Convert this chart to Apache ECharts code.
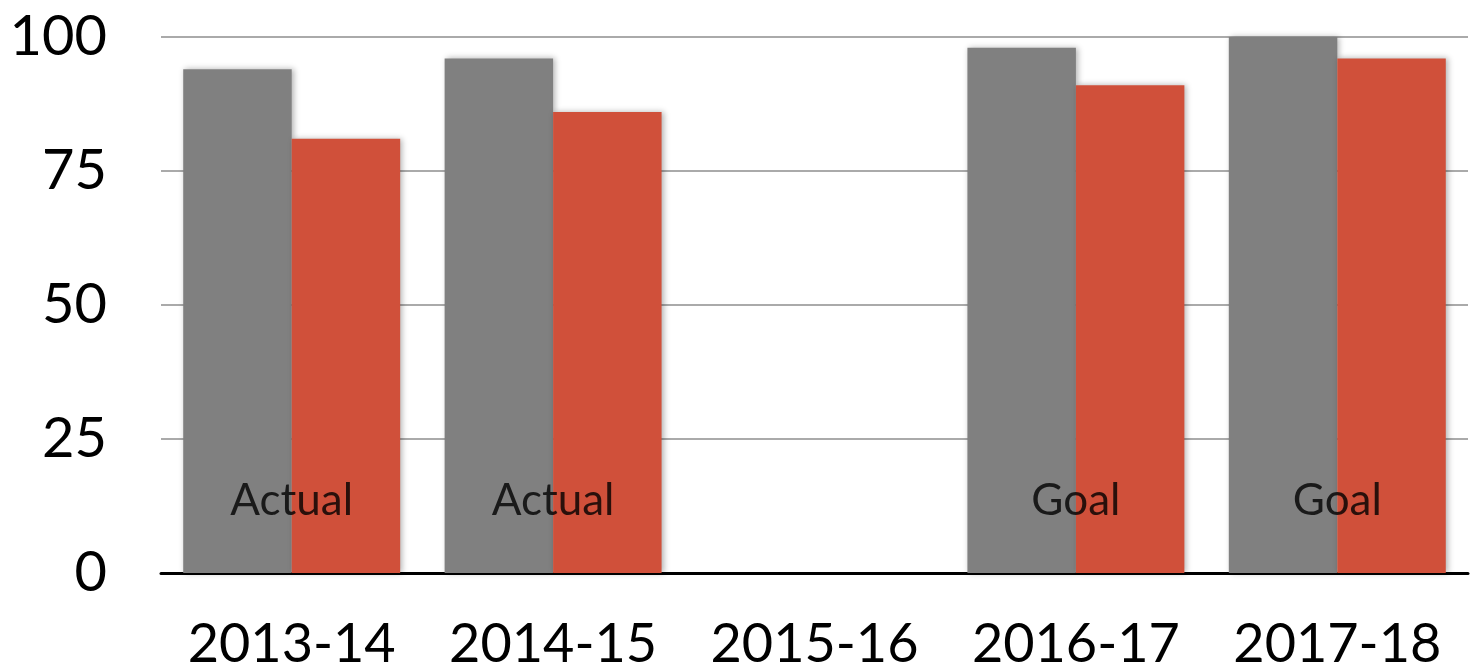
<!DOCTYPE html>
<html><head><meta charset="utf-8">
<script src="https://cdn.jsdelivr.net/npm/echarts@6/dist/echarts.min.js"></script>
<style>html,body{margin:0;padding:0;background:#fff}#c{width:1477px;height:672px}</style>
</head><body><div id="c"></div>
<script>
const categories = ['2013-14','2014-15','2015-16','2016-17','2017-18'];
const grayValues = [94, 96, null, 98, 100];
const redValues = [81, 86, null, 91, 96];
const barNotes = ['Actual','Actual','','Goal','Goal'];
const noteLevel = 13.5;
const yTicks = [0, 25, 50, 75, 100];

const FONT = 'Lato';
const chart = echarts.init(document.getElementById('c'), null, {renderer:'canvas'});
const noteData = categories.map((c,i)=> barNotes[i] ? [c, noteLevel, barNotes[i]] : null).filter(Boolean);
chart.setOption({
  animation:false,
  grid:{left:161, right:9, top:37, bottom:97, containLabel:false},
  xAxis:{type:'category', data:categories,
    axisLine:{show:true, lineStyle:{color:'#000', width:3}},
    axisTick:{show:false},
    axisLabel:{color:'#000', fontSize:54, fontFamily:FONT, margin:45, interval:0, hideOverlap:false}
  },
  yAxis:{type:'value', min:yTicks[0], max:yTicks[yTicks.length-1], interval:25,
    axisLine:{show:false}, axisTick:{show:false},
    splitLine:{lineStyle:{color:'#aaaaaa', width:2}},
    axisLabel:{color:'#000', fontSize:56, fontFamily:FONT, margin:54}
  },
  series:[
    {type:'bar', data:grayValues, barGap:'0%', barCategoryGap:'17%',
     itemStyle:{color:'#808080', shadowBlur:6, shadowColor:'rgba(0,0,0,0.3)', shadowOffsetX:2}},
    {type:'bar', data:redValues,
     itemStyle:{color:'#d0503a', shadowBlur:6, shadowColor:'rgba(0,0,0,0.3)', shadowOffsetX:2}},
    {type:'scatter', data:noteData, symbolSize:0, z:10,
     label:{show:true, position:'inside', formatter:p=>p.data[2], color:'#000', fontSize:44, fontFamily:FONT}}
  ]
});
</script></body></html>
